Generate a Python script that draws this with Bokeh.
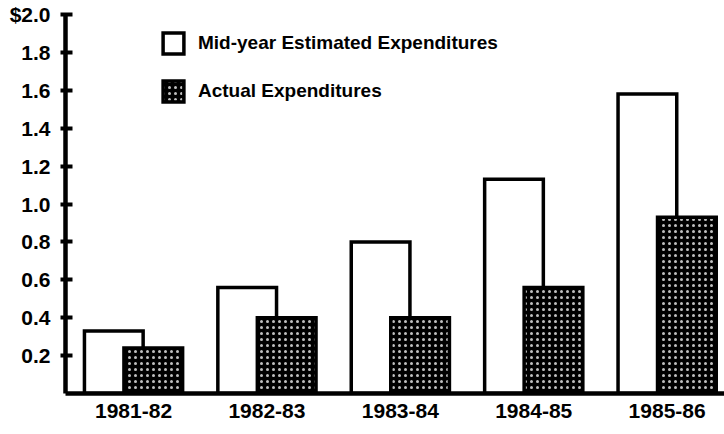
from bokeh.plotting import figure
from bokeh.models import Range1d, FixedTicker, Legend, LegendItem, ColumnDataSource
from bokeh.embed import file_html
from bokeh.resources import INLINE

years = ["1981-82", "1982-83", "1983-84", "1984-85", "1985-86"]
estimated = [0.33, 0.56, 0.80, 1.13, 1.58]
actual = [0.24, 0.40, 0.40, 0.56, 0.93]
y_ticks = [0.2, 0.4, 0.6, 0.8, 1.0, 1.2, 1.4, 1.6, 1.8, 2.0]
y_tick_labels = ["0.2", "0.4", "0.6", "0.8", "1.0", "1.2", "1.4", "1.6", "1.8", "$2.0"]
series_names = ["Mid-year Estimated Expenditures", "Actual Expenditures"]

FONT = "Liberation Sans"
idx = list(range(len(years)))
offset = 0.148
bar_w = 0.44

src = ColumnDataSource(dict(
    x_est=[i - offset for i in idx],
    x_act=[i + offset for i in idx],
    est=estimated,
    act=actual,
))

p = figure(width=724, height=434, output_backend="svg", toolbar_location=None,
           x_range=Range1d(-0.51, 4.43), y_range=Range1d(0, 2.0),
           min_border_left=65, min_border_right=0, min_border_top=14, min_border_bottom=41)
p.background_fill_color = "white"
p.border_fill_color = "white"
p.outline_line_color = None
p.xgrid.visible = False
p.ygrid.visible = False

r_est = p.vbar(x="x_est", top="est", width=bar_w, source=src, fill_color="white",
               line_color="black", line_width=3.5, line_join="miter")
r_act = p.vbar(x="x_act", top="act", width=bar_w, source=src, fill_color="black",
               line_color="black", line_width=3.5, line_join="miter",
               hatch_pattern="dot", hatch_color="white", hatch_scale=6, hatch_alpha=0.75)

# y axis
ya = p.yaxis[0]
ya.ticker = FixedTicker(ticks=y_ticks)
ya.major_label_overrides = {t: l for t, l in zip(y_ticks, y_tick_labels)}
ya.axis_line_width = 4.5
ya.axis_line_color = "black"
ya.major_tick_line_width = 4
ya.major_tick_in = 7
ya.major_tick_out = 5
ya.minor_tick_line_color = None
ya.major_label_standoff = 10
ya.major_label_text_font = FONT
ya.major_label_text_font_style = "bold"
ya.major_label_text_font_size = "21px"
ya.major_label_text_color = "black"

# x axis
xa = p.xaxis[0]
xa.ticker = FixedTicker(ticks=idx)
xa.major_label_overrides = {i: y for i, y in zip(idx, years)}
xa.axis_line_width = 4.5
xa.axis_line_color = "black"
xa.major_tick_line_color = None
xa.minor_tick_line_color = None
xa.major_tick_in = 0
xa.major_tick_out = 0
xa.major_label_standoff = 10
xa.major_label_text_font = FONT
xa.major_label_text_font_style = "bold"
xa.major_label_text_font_size = "21px"
xa.major_label_text_color = "black"

legend = Legend(items=[LegendItem(label=series_names[0], renderers=[r_est]),
                       LegendItem(label=series_names[1], renderers=[r_act])],
                location=(95, 289), orientation="vertical")
legend.border_line_color = None
legend.background_fill_alpha = 0
legend.padding = 0
legend.margin = 0
legend.spacing = 22
legend.glyph_width = 26
legend.glyph_height = 26
legend.label_standoff = 12
legend.label_text_font = FONT
legend.label_text_font_style = "bold"
legend.label_text_font_size = "19px"
legend.label_text_color = "black"
p.add_layout(legend, "center")

open("out.html", "w").write(file_html(p, INLINE))
